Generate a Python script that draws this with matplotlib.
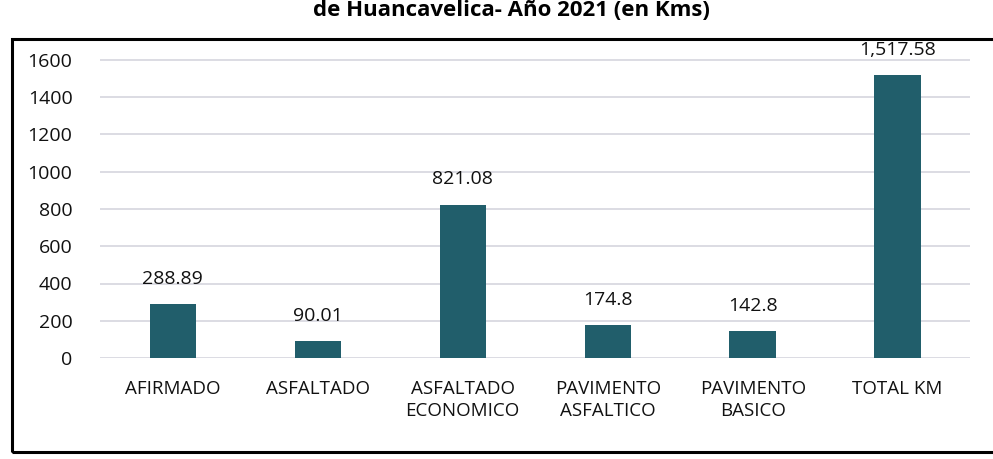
import matplotlib
matplotlib.use("Agg")
import matplotlib.pyplot as plt
from matplotlib.patches import Rectangle

categories = ["AFIRMADO", "ASFALTADO", "ASFALTADO\nECONOMICO", "PAVIMENTO\nASFALTICO",
              "PAVIMENTO\nBASICO", "TOTAL KM"]
values = [288.89, 90.01, 821.08, 174.8, 142.8, 1517.58]
value_labels = ["288.89", "90.01", "821.08", "174.8", "142.8", "1,517.58"]
yticks = [0, 200, 400, 600, 800, 1000, 1200, 1400, 1600]
title = "de Huancavelica- Año 2021 (en Kms)"

plt.rcParams['font.family'] = ['Open Sans', 'DejaVu Sans']

fig = plt.figure(figsize=(9.93, 4.59), dpi=100)
ax = fig.add_axes([0.101, 0.22, 0.876, 0.69])

x = list(range(len(categories)))
bar_color = "#215e6b"
ax.bar(x, values, width=0.32, color=bar_color, zorder=3)
for xi, v, lab in zip(x, values, value_labels):
    ax.annotate(lab, (xi, v), xytext=(0, 12), textcoords="offset points",
                ha="center", va="bottom", fontsize=14, color="#111111")

ax.set_xlim(-0.5, len(categories) - 0.5)
ax.set_ylim(0, 1700)
ax.set_yticks(yticks)
ax.set_yticklabels([str(t) for t in yticks], fontsize=14, color="#111111")
ax.set_xticks(x)
ax.set_xticklabels(categories, fontsize=13.5, linespacing=1.25, color="#111111")
ax.tick_params(axis="x", length=0, pad=16)
ax.tick_params(axis="y", length=0, pad=20)
ax.grid(axis="y", color="#d6d6de", linewidth=1.2, zorder=0)
for s in ax.spines.values():
    s.set_visible(False)

fig.text(0.515, 1.0, title, ha="center", va="top", fontsize=16, fontweight="bold")

fig.patches.append(Rectangle((0.012, 0.015), 1.2, 0.9, transform=fig.transFigure,
                             fill=False, edgecolor="black", linewidth=2.2, zorder=10))

fig.savefig("out.png", dpi=100, facecolor="white")
